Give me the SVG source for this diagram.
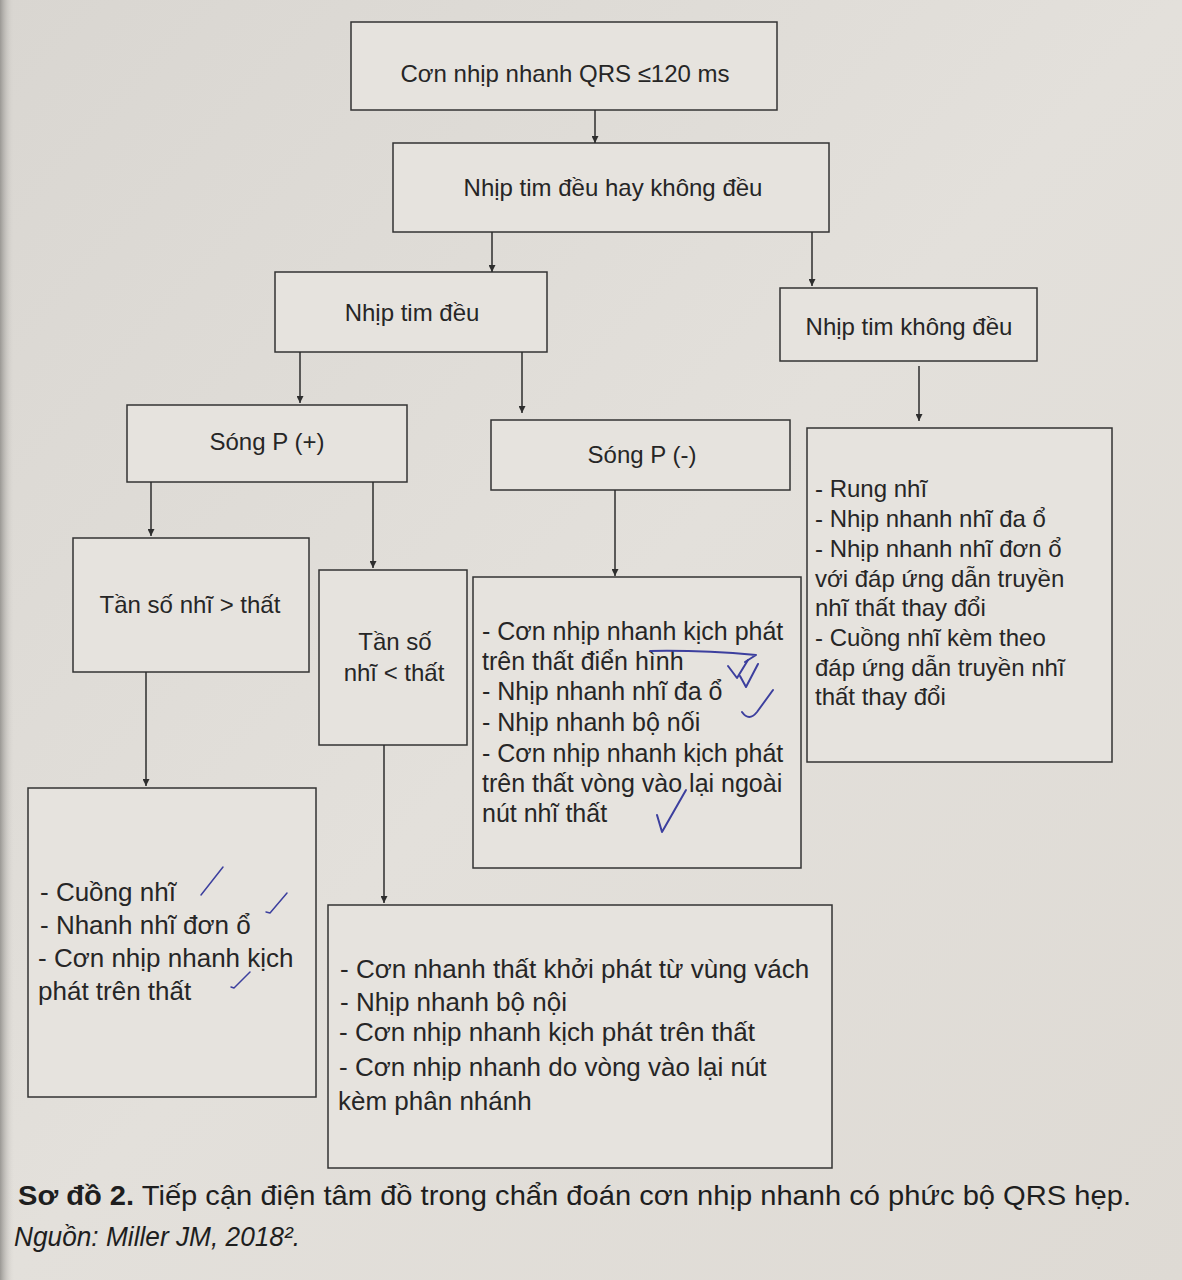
<svg xmlns="http://www.w3.org/2000/svg" width="1182" height="1280" viewBox="0 0 1182 1280">
<defs>
<linearGradient id="paper" x1="0" y1="0" x2="1" y2="1">
<stop offset="0" stop-color="#d9d6d1"/>
<stop offset="0.5" stop-color="#e3e0db"/>
<stop offset="1" stop-color="#dedad4"/>
</linearGradient>
<linearGradient id="edge" x1="0" y1="0" x2="1" y2="0">
<stop offset="0" stop-color="#9a9894"/>
<stop offset="1" stop-color="#d9d6d1" stop-opacity="0"/>
</linearGradient>
<marker id="arr" viewBox="0 0 10 10" refX="10" refY="5" markerWidth="8" markerHeight="7" orient="auto" markerUnits="userSpaceOnUse">
<path d="M0,0 L10,5 L0,10 z" fill="#2e2e2e"/>
</marker>
</defs>
<style>
.box{fill:#e6e3de;stroke:#333;stroke-width:1.5}
.t{font-family:"Liberation Sans",Arial,sans-serif;font-size:24px;fill:#262626}
.c{text-anchor:middle}
.b{font-size:25px}
.bl{font-size:26px}
.bb{font-size:26px}
.conn line{stroke:#2e2e2e;stroke-width:1.5;marker-end:url(#arr)}
.pen{fill:none;stroke:#3c3f9e;stroke-width:2;stroke-linecap:round;stroke-linejoin:round}
.cap{font-family:"Liberation Sans",Arial,sans-serif;font-size:28px;fill:#1e1e1e}
</style>
<rect width="1182" height="1280" fill="url(#paper)"/>
<rect width="14" height="1280" fill="url(#edge)"/>

<g id="n1"><rect class="box" x="351" y="22" width="426" height="88"/><text class="t c" x="565" y="82">Cơn nhịp nhanh QRS ≤120 ms</text></g>
<g id="n2"><rect class="box" x="393" y="143" width="436" height="89"/><text class="t c" x="613" y="196">Nhịp tim đều hay không đều</text></g>
<g id="n3"><rect class="box" x="275" y="272" width="272" height="80"/><text class="t c" x="412" y="321">Nhịp tim đều</text></g>
<g id="n4"><rect class="box" x="780" y="288" width="257" height="73"/><text class="t c" x="909" y="335">Nhịp tim không đều</text></g>
<g id="n5"><rect class="box" x="127" y="405" width="280" height="77"/><text class="t c" x="267" y="450">Sóng P (+)</text></g>
<g id="n6"><rect class="box" x="491" y="420" width="299" height="70"/><text class="t c" x="642" y="463">Sóng P (-)</text></g>
<g id="n7"><rect class="box" x="807" y="428" width="305" height="334"/>
<text class="t" x="815" y="497">- Rung nhĩ</text>
<text class="t" x="815" y="527">- Nhịp nhanh nhĩ đa ổ</text>
<text class="t" x="815" y="557">- Nhịp nhanh nhĩ đơn ổ</text>
<text class="t" x="815" y="587">với đáp ứng dẫn truyền</text>
<text class="t" x="815" y="616">nhĩ thất thay đổi</text>
<text class="t" x="815" y="646">- Cuồng nhĩ kèm theo</text>
<text class="t" x="815" y="676">đáp ứng dẫn truyền nhĩ</text>
<text class="t" x="815" y="705">thất thay đổi</text>
</g>
<g id="n8"><rect class="box" x="73" y="538" width="236" height="134"/><text class="t c" x="190" y="613">Tần số nhĩ &gt; thất</text></g>
<g id="n9"><rect class="box" x="319" y="570" width="148" height="175"/><text class="t c" x="395" y="650">Tần số</text><text class="t c" x="394" y="681">nhĩ &lt; thất</text></g>
<g id="n10"><rect class="box" x="473" y="577" width="328" height="291"/>
<text class="t b" x="482" y="640">- Cơn nhịp nhanh kịch phát</text>
<text class="t b" x="482" y="670">trên thất điển hình</text>
<text class="t b" x="482" y="700">- Nhịp nhanh nhĩ đa ổ</text>
<text class="t b" x="482" y="731">- Nhịp nhanh bộ nối</text>
<text class="t b" x="482" y="762">- Cơn nhịp nhanh kịch phát</text>
<text class="t b" x="482" y="792">trên thất vòng vào lại ngoài</text>
<text class="t b" x="482" y="822">nút nhĩ thất</text>
</g>
<g id="n11"><rect class="box" x="28" y="788" width="288" height="309"/>
<text class="t bl" x="40" y="901">- Cuồng nhĩ</text>
<text class="t bl" x="40" y="934">- Nhanh nhĩ đơn ổ</text>
<text class="t bl" x="38" y="967">- Cơn nhịp nhanh kịch</text>
<text class="t bl" x="38" y="1000">phát trên thất</text>
</g>
<g id="n12"><rect class="box" x="328" y="905" width="504" height="263"/>
<text class="t bb" x="340" y="978">- Cơn nhanh thất khởi phát từ vùng vách</text>
<text class="t bb" x="340" y="1011">- Nhịp nhanh bộ nội</text>
<text class="t bb" x="339" y="1041">- Cơn nhịp nhanh kịch phát trên thất</text>
<text class="t bb" x="339" y="1076">- Cơn nhịp nhanh do vòng vào lại nút</text>
<text class="t bb" x="338" y="1110">kèm phân nhánh</text>
</g>

<g id="connectors" class="conn">
<line x1="595" y1="110" x2="595" y2="143"/>
<line x1="492" y1="232" x2="492" y2="272"/>
<line x1="812" y1="232" x2="812" y2="286"/>
<line x1="300" y1="352" x2="300" y2="403"/>
<line x1="522" y1="352" x2="522" y2="413"/>
<line x1="919" y1="366" x2="919" y2="421"/>
<line x1="151" y1="482" x2="151" y2="536"/>
<line x1="373" y1="482" x2="373" y2="568"/>
<line x1="615" y1="490" x2="615" y2="576"/>
<line x1="146" y1="672" x2="146" y2="786"/>
<line x1="384" y1="745" x2="384" y2="903"/>
</g>

<g id="pen-marks">
<path class="pen" d="M650,651 Q700,650 756,655 L745,662"/>
<path class="pen" d="M728,666 L737,678 L748,660"/>
<path class="pen" d="M740,676 L746,687 L758,664"/>
<path class="pen" d="M742,712 Q749,722 757,712 L773,690"/>
<path class="pen" d="M657,815 L662,832 L686,790"/>
<path class="pen" style="stroke-width:1.5" d="M201,895 L223,867"/>
<path class="pen" style="stroke-width:1.5" d="M266,912 L270,913 L287,893"/>
<path class="pen" style="stroke-width:1.5" d="M231,987 L234,988 L250,972"/>
</g>

<g id="caption">
<text class="cap" x="18" y="1205" textLength="1113" lengthAdjust="spacingAndGlyphs"><tspan font-weight="bold">Sơ đồ 2.</tspan> Tiếp cận điện tâm đồ trong chẩn đoán cơn nhịp nhanh có phức bộ QRS hẹp.</text>
<text class="cap" x="14" y="1246" font-style="italic" textLength="286" lengthAdjust="spacingAndGlyphs">Nguồn: Miller JM, 2018².</text>
</g>
</svg>
